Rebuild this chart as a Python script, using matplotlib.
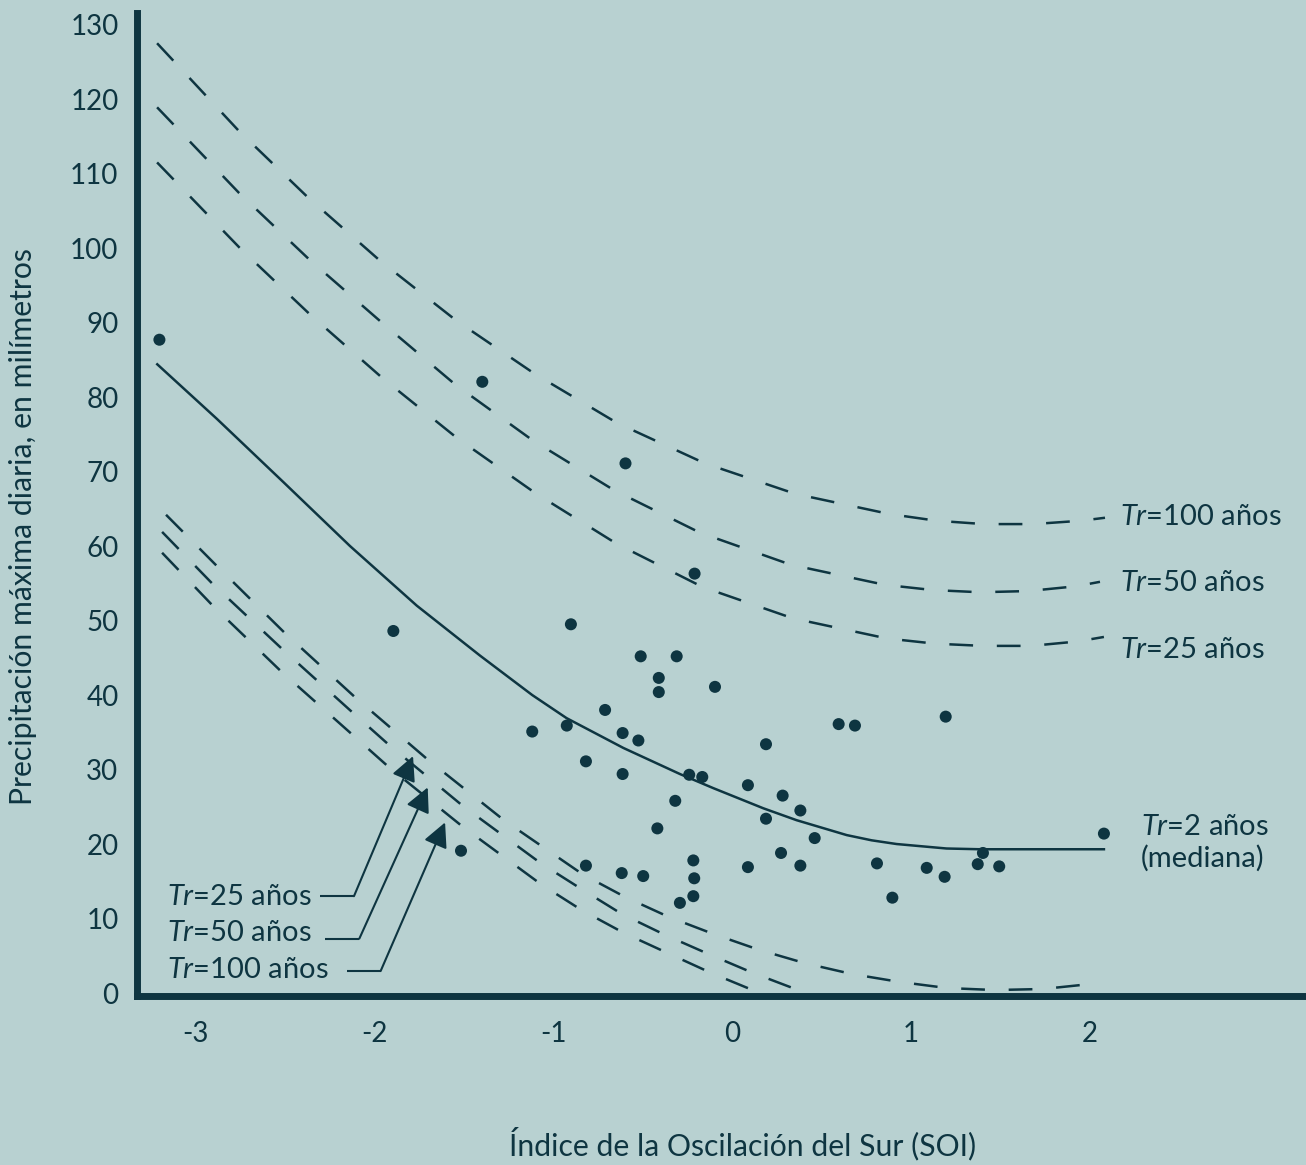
import matplotlib
matplotlib.use('Agg')
import matplotlib.pyplot as plt

BG = '#b8d1d1'
INK = '#0e3541'

plt.rcParams['font.family'] = ['Lato', 'DejaVu Sans']
plt.rcParams['mathtext.fontset'] = 'custom'
plt.rcParams['mathtext.rm'] = 'Lato'
plt.rcParams['mathtext.it'] = 'Lato:italic'

# ---------------- data ----------------
soi = [-3.199, -1.395, -0.595, -0.209, -1.892, -0.900, -0.510, -0.309, -0.409, -0.409,
       -0.095, -0.709, -1.116, -0.923, -0.611, -0.523, -0.816, -0.611, -0.239, -0.166,
       -0.317, -0.417, 0.596, 0.687, 1.194, 0.190, 0.089, 0.283, 0.382, 0.190,
       0.462, 0.274, 0.382, 0.089, -0.216, -0.211, -0.216, -0.291, -0.816, -0.616,
       -0.496, -1.514, 0.810, 0.896, 1.088, 1.188, 2.078, 1.402, 1.373, 1.493]
precip = [87.7, 82.05, 71.1, 56.3, 48.6, 49.5, 45.2, 45.2, 42.3, 40.4,
          41.1, 38.0, 35.1, 35.9, 34.9, 33.9, 31.1, 29.4, 29.3, 29.0,
          25.8, 22.1, 36.1, 35.9, 37.1, 33.4, 27.9, 26.5, 24.5, 23.4,
          20.8, 18.8, 17.1, 16.9, 17.8, 15.4, 13.0, 12.1, 17.1, 16.1,
          15.7, 19.1, 17.4, 12.8, 16.8, 15.6, 21.4, 18.8, 17.3, 17.0]

# Tr = 2 years (median)
med_x = [-3.211, -2.879, -2.507, -2.134, -1.761, -1.408, -1.116, -0.924, -0.607, -0.291,
         -0.104, 0.175, 0.361, 0.641, 0.780, 0.920, 1.199, 1.385, 2.078]
med_y = [84.4, 77.1, 68.6, 60.0, 52.0, 45.3, 40.0, 36.9, 32.9, 29.4,
         27.5, 24.8, 23.2, 21.2, 20.5, 20.0, 19.4, 19.3, 19.3]

# upper bounds
up100_x = [-3.212, -2.754, -2.369, -1.966, -1.542, -1.101, -0.640, -0.151, 0.355, 0.880,
           1.143, 1.408, 1.682, 1.950, 2.084]
up100_y = [127.5, 115.7, 106.8, 98.3, 90.3, 83.1, 76.5, 71.1, 67.0, 64.3,
           63.4, 62.95, 62.95, 63.4, 63.8]
up50_x = [-3.212, -2.754, -2.363, -1.961, -1.547, -1.114, -0.659, -0.179, 0.328, 0.853,
          1.120, 1.385, 1.654, 1.922, 2.056]
up50_y = [118.9, 107.4, 98.5, 90.1, 81.7, 74.2, 67.5, 61.8, 57.5, 54.8,
          54.1, 53.8, 53.96, 54.6, 55.2]
up25_x = [-3.212, -2.749, -2.358, -1.955, -1.536, -1.098, -0.644, -0.164, 0.340, 0.865,
          1.134, 1.402, 1.670, 1.933, 2.078]
up25_y = [111.5, 100.0, 91.1, 82.6, 74.5, 67.1, 60.3, 54.5, 50.3, 47.6,
          46.9, 46.6, 46.6, 47.2, 47.8]

# lower bounds
lo25_x = [-3.162, -2.877, -2.497, -2.101, -1.698, -1.274, -0.832, -0.598, -0.352, -0.101,
          0.151, 0.408, 0.670, 0.933, 1.201, 1.469, 1.737, 2.000]
lo25_y = [64.2, 57.3, 48.3, 39.6, 31.3, 23.2, 15.9, 12.9, 10.2, 7.9,
          5.8, 4.0, 2.55, 1.5, 0.67, 0.40, 0.54, 1.2]
lo50_x = [-3.184, -2.905, -2.514, -2.117, -1.916, -1.503, -1.067, -0.844, -0.615, -0.374,
          -0.128, 0.117, 0.369]
lo50_y = [61.9, 55.0, 46.2, 37.6, 33.3, 25.1, 17.4, 14.0, 10.6, 7.8,
          5.2, 2.7, 0.4]
lo100_x = [-3.184, -2.905, -2.520, -2.117, -1.916, -1.503, -1.067, -0.838, -0.603, -0.363,
           -0.117, 0.128]
lo100_y = [59.1, 52.1, 43.2, 34.6, 30.3, 22.3, 14.6, 11.1, 8.05, 5.4,
           2.7, 0.27]

xticks = [-3, -2, -1, 0, 1, 2]
yticks = list(range(0, 131, 10))

right_labels = ['$\\mathit{Tr}$=100 años', '$\\mathit{Tr}$=50 años', '$\\mathit{Tr}$=25 años']
left_labels = ['$\\mathit{Tr}$=25 años', '$\\mathit{Tr}$=50 años', '$\\mathit{Tr}$=100 años']

# ---------------- figure ----------------
W, H = 1306, 1165
fig = plt.figure(figsize=(W / 100, H / 100), dpi=100, facecolor=BG)
ax = fig.add_axes([136.5 / W, (H - 996) / H, (W - 136.5) / W, (996 - 12.7) / H])
ax.set_facecolor(BG)
ax.set_xlim(-3.327, 3.207)
ax.set_ylim(-0.4, 131.6)

LW = 1.8
DASH = (9.5, 9.5)
for xs, ys in [(up100_x, up100_y), (up50_x, up50_y), (up25_x, up25_y),
               (lo25_x, lo25_y), (lo50_x, lo50_y), (lo100_x, lo100_y)]:
    ax.plot(xs, ys, color=INK, lw=LW, dashes=DASH, solid_capstyle='butt', zorder=2)

ax.plot(med_x, med_y, color=INK, lw=LW, solid_joinstyle='round', zorder=2)
ax.scatter(soi, precip, s=75, color=INK, edgecolors='none', zorder=3)

# spines
for side in ['top', 'right']:
    ax.spines[side].set_visible(False)
for side in ['left', 'bottom']:
    ax.spines[side].set_linewidth(5.0)
    ax.spines[side].set_color(INK)
    ax.spines[side].set_zorder(5)
    ax.spines[side].set_capstyle('projecting')

ax.set_xticks(xticks)
ax.set_xticklabels([str(v) for v in xticks])
ax.set_yticks(yticks)
ax.set_yticklabels([str(v) for v in yticks])
ax.tick_params(axis='both', length=0, labelsize=20, labelcolor=INK)
ax.tick_params(axis='x', pad=18)
ax.tick_params(axis='y', pad=13)

# right-side labels
FS = 21
for lab, yv in zip(right_labels, [63.9, 55.0, 46.0]):
    ax.text(2.168, yv, lab, fontsize=FS, color=INK, ha='left', va='center', clip_on=False)
ax.text(2.285, 22.3, '$\\mathit{Tr}$=2 años', fontsize=FS, color=INK, ha='left', va='center', clip_on=False)
ax.text(2.285, 18.1, '(mediana)', fontsize=FS, color=INK, ha='left', va='center', clip_on=False)

# left labels with arrows
starts = [(-2.302, 13.0), (-2.274, 7.3), (-2.152, 2.95)]
corners = [(-2.112, 13.0), (-2.082, 7.3), (-1.963, 2.95)]
tips = [(-1.782, 31.8), (-1.700, 27.6), (-1.603, 22.9)]
label_y = [12.9, 8.05, 3.1]
for lab, ly, s, c, t in zip(left_labels, label_y, starts, corners, tips):
    ax.text(-3.158, ly, lab, fontsize=FS, color=INK, ha='left', va='center')
    ax.plot([s[0], c[0]], [s[1], c[1]], color=INK, lw=1.5, solid_capstyle='butt', zorder=3)
    ax.annotate('', xy=t, xytext=c,
                arrowprops=dict(arrowstyle='-|>,head_length=0.6,head_width=0.3',
                                mutation_scale=25, color=INK, lw=1.5,
                                shrinkA=0, shrinkB=0), zorder=3)

# axis titles
AFS = 21.7
fig.text(743 / W, 1 - 1144 / H, 'Índice de la Oscilación del Sur (SOI)', fontsize=AFS,
         color=INK, ha='center', va='center')
fig.text(23 / W, 1 - 527 / H, 'Precipitación máxima diaria, en milímetros', fontsize=AFS,
         color=INK, ha='center', va='center', rotation=90)

fig.savefig('out.png', dpi=100, facecolor=BG)
